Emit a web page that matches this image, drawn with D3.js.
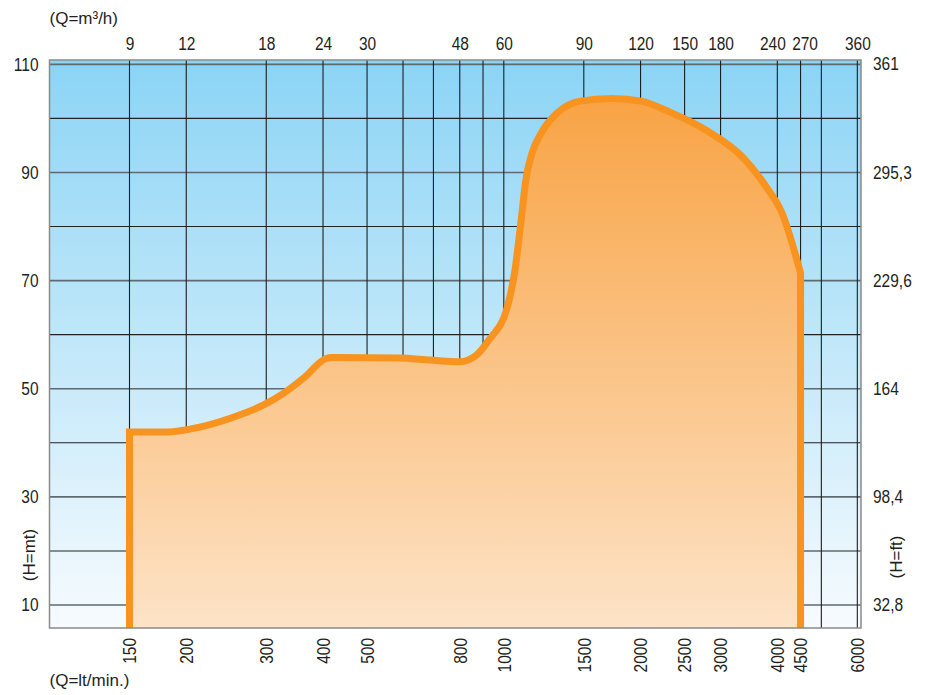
<!DOCTYPE html>
<html>
<head>
<meta charset="utf-8">
<script src="https://cdn.jsdelivr.net/npm/d3@7"></script>
<style>
  body{margin:0;background:#fff;}
  svg text{font-family:"Liberation Sans",Arial,sans-serif;fill:#231f20;}
</style>
</head>
<body>
<div id="chart"></div>
<script>
var width=927;
var height=695;

// plot box (px)
var plotLeft=49.5, plotRight=861, plotTop=60, plotBottom=628;

//---------------- data ----------------
// pump limit curve, Q in lt/min, H in metres
var flowLt=[150,182,214,251,296,328,365,406,419,588,690,800,870,927,1018,1058,1092,1118,1153,1219,1319,1472,1732,2006,2315,2790,3348,3783,4096,4500];
var headM=[42.0,42.0,42.9,44.6,47.0,49.2,52.2,55.6,55.8,55.7,55.3,55.0,56.2,59.0,65.1,71.9,81.2,88.6,93.5,97.8,101.2,103.2,103.7,103.2,101.2,97.8,92.9,87.3,82.5,71.4];

// ticks
var bottomTicks=[150,200,300,400,500,800,1000,1500,2000,2500,3000,4000,4500,6000]; // lt/min
var topTicks=[9,12,18,24,30,48,60,90,120,150,180,240,270,360];                        // m3/h
var vGrid=[150,200,300,400,500,600,700,800,900,1000,1500,2000,2500,3000,4000,4500,5000,6000];
var leftTicks=[10,30,50,70,90,110];   // m
var hGrid=[10,20,30,40,50,60,70,80,90,100,110];
var rightTicks=[32.8,98.4,164,229.6,295.3,361]; // ft

var qMin=100, qMax=6113;   // lt/min at the box edges
var hMin=5.75, hMax=110.8; // m at the box edges

//---------------- scales ----------------
var x=d3.scaleLog().domain([qMin,qMax]).range([plotLeft,plotRight]);
var xM3=d3.scaleLog().domain([qMin*0.06,qMax*0.06]).range([plotLeft,plotRight]);
var y=d3.scaleLinear().domain([hMin,hMax]).range([plotBottom,plotTop]);
var yFt=d3.scaleLinear().domain([hMin*3.2808,hMax*3.2808]).range([plotBottom,plotTop]);

var svg=d3.select('#chart').append('svg')
  .attr('width',width)
  .attr('height',height);

var defs=svg.append('defs');

var sky=defs.append('linearGradient').attr('id','sky')
  .attr('x1',0).attr('y1',0).attr('x2',0).attr('y2',1);
sky.append('stop').attr('offset','0%').attr('stop-color','#8bd4f5');
sky.append('stop').attr('offset','100%').attr('stop-color','#f7fbfe');

var orange=defs.append('linearGradient').attr('id','orangeFill')
  .attr('gradientUnits','userSpaceOnUse')
  .attr('x1',0).attr('y1',y(104)).attr('x2',0).attr('y2',plotBottom);
orange.append('stop').attr('offset','0%').attr('stop-color','#f8a344');
orange.append('stop').attr('offset','100%').attr('stop-color','#fde3c7');

// background
svg.append('rect')
  .attr('x',plotLeft).attr('y',plotTop)
  .attr('width',plotRight-plotLeft).attr('height',plotBottom-plotTop)
  .attr('fill','url(#sky)');

//---------------- grid ----------------
svg.append('g').selectAll('line').data(hGrid).enter().append('line')
  .attr('x1',plotLeft).attr('x2',plotRight)
  .attr('y1',function(d){return y(d);}).attr('y2',function(d){return y(d);})
  .attr('stroke',function(d){return leftTicks.indexOf(d)>=0 ? '#5d6a70' : '#222';})
  .attr('stroke-width',function(d){return leftTicks.indexOf(d)>=0 ? 1.6 : 1.1;});

svg.append('g').selectAll('line').data(vGrid).enter().append('line')
  .attr('x1',function(d){return x(d);}).attr('x2',function(d){return x(d);})
  .attr('y1',plotTop).attr('y2',plotBottom)
  .attr('stroke','#1e1e1e')
  .attr('stroke-width',1.1);

//---------------- curve ----------------
var pts=flowLt.map(function(q,i){return [q,headM[i]];});

var curveLine=d3.line()
  .x(function(d){return x(d[0]);})
  .y(function(d){return y(d[1]);})
  .curve(d3.curveMonotoneX);

var inner=curveLine(pts);
var q0=flowLt[0], q1=flowLt[flowLt.length-1];
// vertical legs at both ends, down to the bottom of the box
var outline='M'+x(q0)+','+plotBottom+'L'+inner.slice(1)+'L'+x(q1)+','+plotBottom;

svg.append('path')
  .attr('d',outline+'Z')
  .attr('fill','url(#orangeFill)');

svg.append('path')
  .attr('d',outline)
  .attr('fill','none')
  .attr('stroke','#f7931e')
  .attr('stroke-width',7)
  .attr('stroke-linejoin','miter');

// box border
svg.append('rect')
  .attr('x',plotLeft).attr('y',plotTop)
  .attr('width',plotRight-plotLeft).attr('height',plotBottom-plotTop)
  .attr('fill','none')
  .attr('stroke','#8a8a8a')
  .attr('stroke-width',1.5);

//---------------- axes ----------------
var fs='18px';

var gLeft=svg.append('g').attr('transform','translate('+plotLeft+',0)')
  .call(d3.axisLeft(y).tickValues(leftTicks).tickSize(0).tickPadding(11));

var gRight=svg.append('g').attr('transform','translate('+plotRight+',0)')
  .call(d3.axisRight(yFt).tickValues(rightTicks).tickSize(0).tickPadding(12)
    .tickFormat(function(d){return String(d).replace('.',',');}));

var gTop=svg.append('g').attr('transform','translate(0,'+plotTop+')')
  .call(d3.axisTop(xM3).tickValues(topTicks).tickSize(0).tickPadding(10)
    .tickFormat(function(d){return d;}));

var gBottom=svg.append('g').attr('transform','translate(0,'+plotBottom+')')
  .call(d3.axisBottom(x).tickValues(bottomTicks).tickSize(0)
    .tickFormat(function(d){return d;}));

gBottom.selectAll('text')
  .attr('transform','rotate(-90)')
  .attr('x',-10).attr('y',0)
  .attr('dy','0.35em')
  .style('text-anchor','end');

// 240 and 270 sit too close, push them apart a bit like the print does
gTop.selectAll('text').attr('dx',function(d){return d===240 ? -5 : (d===270 ? 4 : 0);});

[gLeft,gRight,gTop,gBottom].forEach(function(g){
  g.select('.domain').remove();
  g.selectAll('text').style('font-size',fs).style('font-family',null).attr('fill','#231f20');
});

// narrow type like the print: squeeze the tick numbers sideways
function condense(sel,k){
  sel.each(function(){
    var len=this.getComputedTextLength();
    d3.select(this).attr('textLength',len*k).attr('lengthAdjust','spacingAndGlyphs');
  });
}
[gLeft,gRight,gTop,gBottom].forEach(function(g){ condense(g.selectAll('text'),0.86); });

//---------------- axis titles ----------------
svg.append('text').attr('x',plotLeft).attr('y',24).style('font-size','17px').text('(Q=m³/h)');

svg.append('text').attr('x',plotLeft).attr('y',686).style('font-size','17px').text('(Q=lt/min.)');

svg.append('text')
  .attr('transform','translate(29,555) rotate(-90)')
  .attr('text-anchor','middle').attr('dy','0.35em')
  .style('font-size','17px').text('(H=mt)');

svg.append('text')
  .attr('transform','translate(896,557) rotate(-90)')
  .attr('text-anchor','middle').attr('dy','0.35em')
  .style('font-size','17px').text('(H=ft)');
</script>
</body>
</html>
